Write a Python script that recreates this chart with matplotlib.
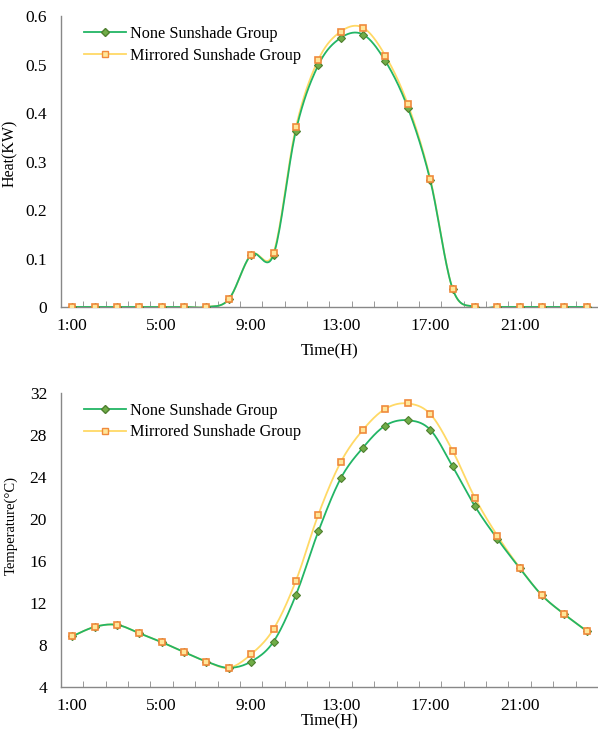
import numpy as np
import matplotlib
matplotlib.use("Agg")
import matplotlib.pyplot as plt
from matplotlib.lines import Line2D

plt.rcParams['font.family'] = ['Liberation Serif', 'DejaVu Serif']

# --- data ---
hours = list(range(1, 25))
hour_labels = [f"{h}:00" for h in hours]

heat_none = [0, 0, 0, 0, 0, 0, 0, 0.016, 0.108, 0.108, 0.364, 0.499, 0.555, 0.562,
             0.507, 0.411, 0.262, 0.038, 0, 0, 0, 0, 0, 0]
heat_mirror = [0, 0, 0, 0, 0, 0, 0, 0.016, 0.108, 0.112, 0.371, 0.510, 0.568, 0.576,
               0.518, 0.418, 0.265, 0.038, 0, 0, 0, 0, 0, 0]

temp_none = [8.8, 9.7, 9.9, 9.1, 8.25, 7.3, 6.4, 5.8, 6.4, 8.3, 12.75, 18.8, 23.85, 26.8,
             28.9, 29.4, 28.5, 25.0, 21.2, 18.1, 15.3, 12.7, 10.9, 9.3]
temp_mirror = [8.8, 9.7, 9.9, 9.1, 8.25, 7.3, 6.4, 5.8, 7.1, 9.5, 14.1, 20.4, 25.4, 28.5,
               30.5, 31.0, 30.0, 26.5, 22.0, 18.4, 15.35, 12.7, 10.9, 9.3]

green_line = '#22b565'
green_face = '#70ad47'
green_edge = '#4f7f2f'
yellow_line = '#ffd966'
orange_edge = '#f08a3c'
orange_face = '#ffe699'


def smooth(x, y, n=20):
    # excel-style smoothed line (catmull-rom through the points)
    x = np.asarray(x, float)
    y = np.asarray(y, float)
    px = np.concatenate([[x[0]], x, [x[-1]]])
    py = np.concatenate([[y[0]], y, [y[-1]]])
    xs, ys = [], []
    t = np.linspace(0, 1, n)
    for i in range(1, len(px) - 2):
        p0, p1, p2, p3 = (px[i-1], py[i-1]), (px[i], py[i]), (px[i+1], py[i+1]), (px[i+2], py[i+2])
        for a, b, c, d, out in ((p0[0], p1[0], p2[0], p3[0], xs), (p0[1], p1[1], p2[1], p3[1], ys)):
            c1 = b + (c - a) / 6
            c2 = c - (d - b) / 6
            out.extend((1-t)**3*b + 3*(1-t)**2*t*c1 + 3*(1-t)*t**2*c2 + t**3*c)
    return np.array(xs), np.array(ys)


def draw(ax, ynone, ymirror, ylim, yticks, ylabel, yfmt, ylab_size, ylab_y, xlab_pad):
    xs, ys = smooth(hours, ymirror)
    ax.plot(xs, ys, color=yellow_line, lw=1.3, zorder=2)
    xs, ys = smooth(hours, ynone)
    ax.plot(xs, ys, color=green_line, lw=1.3, zorder=3)
    ax.plot(hours, ynone, ls='none', marker='D', ms=4.5, mfc=green_face, mec=green_edge,
            mew=0.8, zorder=4)
    ax.plot(hours, ymirror, ls='none', marker='s', ms=4.5, mfc=orange_face, mec=orange_edge,
            mew=1.2, zorder=5)

    ax.set_xlim(0.5, 24.5)
    ax.set_ylim(*ylim)
    ax.set_yticks(yticks)
    ax.set_yticklabels([yfmt(v) for v in yticks])
    ax.set_xticks(hours[::4])
    ax.set_xticklabels(hour_labels[::4])
    ax.set_xticks(np.arange(1.5, 24.5, 1), minor=True)
    ax.tick_params(axis='x', which='major', length=0, pad=8, labelsize=12.5)
    ax.tick_params(axis='x', which='minor', direction='in', length=4, color='#888888')
    ax.tick_params(axis='y', length=0, pad=10, labelsize=12.5)
    for s in ('top', 'right'):
        ax.spines[s].set_visible(False)
    for s in ('left', 'bottom'):
        ax.spines[s].set_color('#888888')
        ax.spines[s].set_linewidth(1.0)
    ax.set_xlabel("Time(H)", fontsize=12, labelpad=xlab_pad)
    ax.set_ylabel(ylabel, fontsize=ylab_size)
    ax.yaxis.set_label_coords(-0.080, ylab_y)

    handles = [
        Line2D([], [], color=green_line, lw=1.3, marker='D', ms=4.5, mfc=green_face, mec=green_edge),
        Line2D([], [], color=yellow_line, lw=1.3, marker='s', ms=4.5, mfc=orange_face, mec=orange_edge),
    ]
    ax.legend(handles, ["None Sunshade Group", "Mirrored Sunshade Group"], loc='upper left',
              bbox_to_anchor=(0.025, 1.0), frameon=False, fontsize=11.7, handlelength=2.6,
              handletextpad=0.25, labelspacing=0.35, borderaxespad=0.2)


fig = plt.figure(figsize=(5.98, 7.31), dpi=100)
ax1 = fig.add_axes([0.102, 0.580, 0.898, 0.398])
ax2 = fig.add_axes([0.102, 0.0606, 0.898, 0.4018])

draw(ax1, heat_none, heat_mirror, (0, 0.6), [0, 0.1, 0.2, 0.3, 0.4, 0.5, 0.6],
     "Heat(KW)", lambda v: "0" if v == 0 else f"{v:.1f}", 11.5, 0.527, 7)
draw(ax2, temp_none, temp_mirror, (4, 32), [4, 8, 12, 16, 20, 24, 28, 32],
     "Temperature(°C)", lambda v: f"{v:d}", 10.5, 0.549, 0)

fig.savefig("out.png", dpi=100)
